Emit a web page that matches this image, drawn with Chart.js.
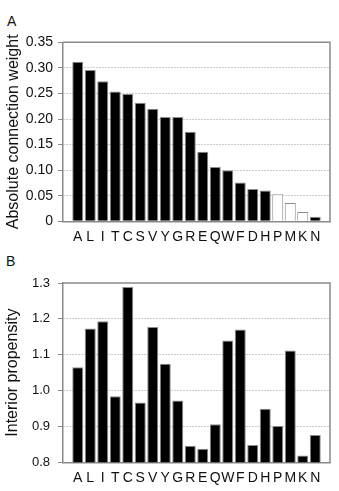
<!DOCTYPE html>
<html>
<head>
<meta charset="utf-8">
<script src="https://cdn.jsdelivr.net/npm/chart.js@4.4.1/dist/chart.umd.min.js"></script>
<style>
html, body { margin: 0; padding: 0; background: #fff; }
body { width: 339px; height: 491px; position: relative; overflow: hidden; font-family: "Liberation Sans", Arial, sans-serif; }
.panel { position: absolute; left: 0; width: 339px; }
.tag { position: absolute; font-size: 14px; line-height: 14px; color: #111; }
</style>
</head>
<body>
<div class="tag" style="left:7px;top:14px">A</div>
<div class="panel" style="top:0;height:245px"><canvas id="chartA"></canvas></div>
<div class="tag" style="left:6px;top:254px">B</div>
<div class="panel" style="top:245px;height:246px"><canvas id="chartB"></canvas></div>
<script>
// residues, ordered by connection weight
var residues = ['A','L','I','T','C','S','V','Y','G','R','E','Q','W','F','D','H','P','M','K','N'];
var connectionWeight = [0.312, 0.296, 0.274, 0.254, 0.249, 0.232, 0.220, 0.204, 0.204, 0.175,
                        0.136, 0.106, 0.100, 0.076, 0.063, 0.060, 0.053, 0.036, 0.018, 0.009];
var interiorPropensity = [1.065, 1.173, 1.193, 0.984, 1.289, 0.967, 1.177, 1.075, 0.972, 0.846,
                          0.838, 0.906, 1.140, 1.170, 0.848, 0.949, 0.901, 1.112, 0.819, 0.876];
// residues drawn as open bars in panel A
var openResidues = ['P','M','K'];
var weightTicks = ['0','0.05','0.10','0.15','0.20','0.25','0.30','0.35'];
var propensityTicks = ['0.8','0.9','1.0','1.1','1.2','1.3'];

Chart.defaults.font.family = '"Liberation Sans", Arial, sans-serif';
Chart.defaults.color = '#111';

var framePlugin = {
  id: 'frame',
  beforeDatasetsDraw: function(chart) {
    var a = chart.chartArea, ctx = chart.ctx;
    ctx.save();
    ctx.strokeStyle = '#8a8a8a';
    ctx.lineWidth = 1.5;
    ctx.beginPath();
    ctx.moveTo(a.left, a.top);
    ctx.lineTo(a.right, a.top);
    ctx.lineTo(a.right, a.bottom);
    ctx.stroke();
    ctx.restore();
  }
};

function makeChart(id, values, fills, yTicks, title, top, bottomSpace, tickSize, tickPad, titlePad) {
  var yVals = yTicks.map(parseFloat);
  return new Chart(document.getElementById(id), {
    type: 'bar',
    data: {
      datasets: [{
        data: values.map(function(v, i) { return {x: i, y: v}; }),
        backgroundColor: fills,
        borderColor: '#8c8c8c',
        borderWidth: 1,
        barPercentage: 0.88,
        categoryPercentage: 1
      }]
    },
    options: {
      responsive: true,
      maintainAspectRatio: false,
      animation: false,
      layout: { padding: { top: top, right: 9, left: 0, bottom: 0 } },
      plugins: { legend: { display: false }, tooltip: { enabled: false } },
      scales: {
        x: {
          type: 'linear',
          offset: false,
          min: -1.18,
          max: residues.length - 1 + 1.18,
          afterBuildTicks: function(s) { s.ticks = residues.map(function(r, i) { return {value: i}; }); },
          afterFit: function(s) { s.height = bottomSpace; },
          grid: { display: false, drawTicks: false },
          border: { color: '#8a8a8a', width: 1.5 },
          ticks: {
            autoSkip: false, maxRotation: 0, minRotation: 0, padding: 7,
            font: { size: 14 }, color: '#111',
            callback: function(v) { return residues[v]; }
          }
        },
        y: {
          min: yVals[0],
          max: yVals[yVals.length - 1],
          afterBuildTicks: function(s) { s.ticks = yVals.map(function(v) { return {value: v}; }); },
          afterFit: function(s) { s.width = 63; },
          grid: {
            color: function(c) { return (c.index === 0 || c.index === yVals.length - 1) ? 'rgba(0,0,0,0)' : '#999'; },
            tickColor: '#8a8a8a',
            tickLength: 5,
            lineWidth: 1
          },
          border: { color: '#8a8a8a', width: 1.5, dash: [1, 2] },
          ticks: {
            padding: tickPad, font: { size: tickSize }, color: '#111',
            callback: function(v, i) { return yTicks[i]; }
          },
          title: { display: true, text: title, font: { size: 16 }, color: '#111', padding: { top: titlePad, bottom: 0 } }
        }
      }
    },
    plugins: [framePlugin]
  });
}

var fillsA = residues.map(function(r) { return openResidues.indexOf(r) >= 0 ? '#fff' : '#000'; });
var fillsB = residues.map(function() { return '#000'; });

makeChart('chartA', connectionWeight, fillsA, weightTicks, 'Absolute connection weight', 42.3, 23.7, 14, 5, 4);
makeChart('chartB', interiorPropensity, fillsB, propensityTicks, 'Interior propensity', 38, 28.7, 13, 8, 3);
</script>
</body>
</html>
